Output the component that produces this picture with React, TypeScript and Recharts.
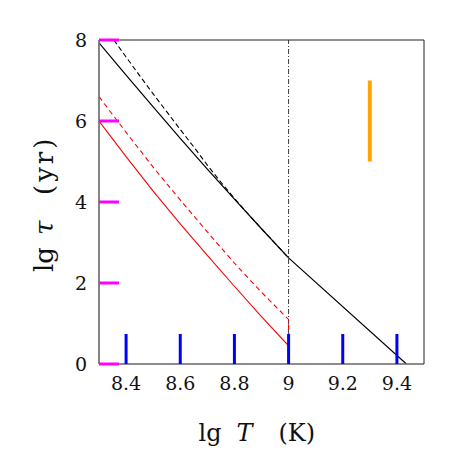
import React from 'react';
import { LineChart, Line, XAxis, YAxis, ReferenceLine, ReferenceDot, Label } from 'recharts';

// ---- data (lg T in K, lg tau in yr) ----
const tau1SolidT = [8.3, 8.4, 8.5, 8.6, 8.7, 8.8, 8.9, 9.0, 9.435];
const tau1SolidLg = [7.93, 7.13, 6.35, 5.57, 4.81, 4.07, 3.34, 2.62, 0];

const tau1DashedT = [8.355, 8.4, 8.45, 8.5, 8.55, 8.6, 8.65, 8.7, 8.75, 8.8, 8.85, 8.9, 8.95, 9.0];
const tau1DashedLg = [8.0, 7.58, 7.12, 6.67, 6.23, 5.79, 5.36, 4.91, 4.49, 4.09, 3.71, 3.34, 2.98, 2.62];

const tau2SolidT = [8.3, 8.4, 8.5, 8.6, 8.7, 8.8, 8.9, 9.0, 9.0];
const tau2SolidLg = [6.0, 5.12, 4.27, 3.46, 2.68, 1.92, 1.17, 0.45, 0];

const tau2DashedT = [8.3, 8.4, 8.5, 8.6, 8.7, 8.8, 8.9, 9.0, 9.0];
const tau2DashedLg = [6.6, 5.72, 4.86, 4.05, 3.26, 2.49, 1.77, 1.1, 0.45];

const xMajorTicks = [8.4, 8.6, 8.8, 9, 9.2, 9.4];
const xMajorLabels = ['8.4', '8.6', '8.8', '9', '9.2', '9.4'];
const yMajorTicks = [0, 2, 4, 6, 8];
const yMajorLabels = ['0', '2', '4', '6', '8'];

const zip = (xs: number[], ys: number[]) => xs.map((x, i) => ({ x, y: ys[i] }));
const tau1Solid = zip(tau1SolidT, tau1SolidLg);
const tau1Dashed = zip(tau1DashedT, tau1DashedLg);
const tau2Solid = zip(tau2SolidT, tau2SolidLg);
const tau2Dashed = zip(tau2DashedT, tau2DashedLg);

const FONT = 'DejaVu Serif';
const GRAY = '#666';
const DARK = '#222';
const X_DOMAIN: [number, number] = [8.3, 9.5];
const Y_DOMAIN: [number, number] = [0, 8];
const MAJ = 13;

const BottomTick = (p: any) => {
  const { x, y, payload } = p;
  const i = xMajorTicks.indexOf(payload.value);
  if (i < 0) return <g />;
  return (
    <g>
      <line x1={x} x2={x} y1={y} y2={y - 30} stroke="blue" strokeWidth={3} />
      <text x={x} y={y + 26} textAnchor="middle" fontFamily={FONT} fontSize={19} fill="#111">
        {xMajorLabels[i]}
      </text>
    </g>
  );
};

const LeftTick = (p: any) => {
  const { x, y, payload } = p;
  const i = yMajorTicks.indexOf(payload.value);
  if (i < 0) return <g />;
  return (
    <text x={x - 12} y={y} dy="0.36em" textAnchor="end" fontFamily={FONT} fontSize={19} fill="#111">
      {yMajorLabels[i]}
    </text>
  );
};

const vbOf = (p: any) => {
  const vb = p.viewBox || {};
  return { x: vb.x ?? vb.cx ?? 0, y: vb.y ?? vb.cy ?? 0, width: vb.width ?? 0, height: vb.height ?? 0 };
};

const XTitle = (p: any) => {
  const vb = vbOf(p);
  const x0 = vb.x + vb.width / 2 - 63;
  const y0 = vb.y + 77;
  return (
    <text y={y0} fontFamily={FONT} fontSize={24} fill="#111">
      <tspan x={x0}>lg</tspan>
      <tspan x={x0 + 38} fontStyle="italic">T</tspan>
      <tspan x={x0 + 80}>(K)</tspan>
    </text>
  );
};

const YTitle = (p: any) => {
  const vb = vbOf(p);
  const X = vb.x + 14;
  const Y = vb.y + vb.height / 2 + 70;
  return (
    <text x={X} y={Y} transform={`rotate(-90 ${X} ${Y})`} fontFamily={FONT} fontSize={26} fill="#111">
      <tspan x={X}>lg</tspan>
      <tspan x={X + 37} fontStyle="italic">τ</tspan>
      <tspan x={X + 77} letterSpacing={3}>(yr)</tspan>
    </text>
  );
};

export default function App() {
  return (
    <LineChart width={455} height={455} margin={{ top: 22, right: 29, bottom: 39, left: 31 }}>
      <XAxis
        xAxisId="b"
        type="number"
        dataKey="x"
        orientation="bottom"
        domain={X_DOMAIN}
        allowDataOverflow
        ticks={xMajorTicks}
        interval={0}
        tickSize={0}
        tickMargin={0}
        tickLine={false}
        tick={BottomTick}
        height={60}
        axisLine={{ stroke: GRAY, strokeWidth: 1.6 }}
      >
        <Label content={XTitle} />
      </XAxis>
      <XAxis
        xAxisId="t"
        type="number"
        dataKey="x"
        orientation="top"
        domain={X_DOMAIN}
        allowDataOverflow
        ticks={xMajorTicks}
        interval={0}
        tick={false}
        tickSize={-MAJ}
        tickLine={{ stroke: 'green', strokeWidth: 3 }}
        height={10}
        axisLine={{ stroke: DARK, strokeWidth: 1 }}
      />
      <YAxis
        yAxisId="l"
        type="number"
        orientation="left"
        domain={Y_DOMAIN}
        allowDataOverflow
        ticks={yMajorTicks}
        interval={0}
        tickSize={-20}
        tickMargin={20}
        tickLine={{ stroke: 'magenta', strokeWidth: 3 }}
        tick={LeftTick}
        width={60}
        axisLine={{ stroke: GRAY, strokeWidth: 1.6 }}
      >
        <Label content={YTitle} />
      </YAxis>
      <YAxis
        yAxisId="r"
        type="number"
        orientation="right"
        domain={Y_DOMAIN}
        allowDataOverflow
        ticks={yMajorTicks}
        interval={0}
        tick={false}
        tickSize={-MAJ}
        tickLine={{ stroke: '#222', strokeWidth: 1.4 }}
        width={10}
        axisLine={{ stroke: DARK, strokeWidth: 1 }}
      />

      <ReferenceLine xAxisId="b" yAxisId="l" segment={[{ x: 9.3, y: 5 }, { x: 9.3, y: 7 }]} stroke="orange" strokeWidth={4} />
      <ReferenceLine xAxisId="b" yAxisId="l" x={9} stroke="#222" strokeWidth={0.9} strokeDasharray="5 2 1 2" />

      <Line xAxisId="b" yAxisId="l" data={tau1Solid} dataKey="y" type="linear" stroke="#000" strokeWidth={1.2} dot={false} activeDot={false} isAnimationActive={false} />
      <Line xAxisId="b" yAxisId="l" data={tau1Dashed} dataKey="y" type="linear" stroke="#000" strokeWidth={1.1} strokeDasharray="5 3" dot={false} activeDot={false} isAnimationActive={false} />
      <Line xAxisId="b" yAxisId="l" data={tau2Solid} dataKey="y" type="linear" stroke="#ff0000" strokeWidth={1.1} dot={false} activeDot={false} isAnimationActive={false} />
      <Line xAxisId="b" yAxisId="l" data={tau2Dashed} dataKey="y" type="linear" stroke="#ff0000" strokeWidth={1.1} strokeDasharray="5 3.5" dot={false} activeDot={false} isAnimationActive={false} />
    </LineChart>
  );
}
